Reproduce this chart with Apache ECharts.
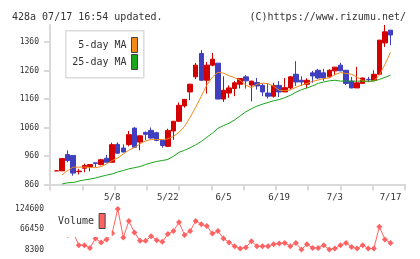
<!DOCTYPE html>
<html>
<head>
<meta charset="utf-8">
<script src="https://cdn.jsdelivr.net/npm/echarts@6/dist/echarts.min.js"></script>
<style>
html, body { margin: 0; padding: 0; background: #fff; }
#chart { width: 420px; height: 259px; }
</style>
</head>
<body>
<div id="chart"></div>
<script>
// trading days (2025)
var dates = ['4/21', '4/22', '4/23', '4/24', '4/25', '4/28', '4/30',
    '5/1', '5/2', '5/7', '5/8', '5/9', '5/12', '5/13', '5/14', '5/15', '5/16', '5/19', '5/20', '5/21',
    '5/22', '5/23', '5/26', '5/27', '5/28', '5/29', '5/30',
    '6/2', '6/3', '6/4', '6/5', '6/6', '6/9', '6/10', '6/11', '6/12', '6/13', '6/16', '6/17', '6/18',
    '6/19', '6/20', '6/23', '6/24', '6/25', '6/26', '6/27', '6/30',
    '7/1', '7/2', '7/3', '7/4', '7/7', '7/8', '7/9', '7/10', '7/11', '7/14', '7/15', '7/16', '7/17'];

var opens = [908, 908, 965, 962, 905, 917, 923, 936, 930, 952,
    938, 1001, 988, 1000, 1058, 1009, 1043, 1050, 1042, 1015,
    994, 1048, 1082, 1136, 1185, 1238, 1320, 1226, 1279, 1286,
    1160, 1181, 1197, 1212, 1238, 1209, 1218, 1208, 1181, 1170,
    1208, 1185, 1199, 1247, 1226, 1212, 1252, 1261, 1252, 1238,
    1259, 1279, 1261, 1223, 1199, 1215, 1229, 1226, 1247, 1357, 1402];
var closes = [908, 951, 944, 900, 907, 927, 930, 934, 947, 938,
    1000, 970, 974, 1035, 991, 1031, 1036, 1023, 1015, 997,
    1050, 1082, 1138, 1159, 1212, 1279, 1226, 1279, 1300, 1160,
    1191, 1199, 1217, 1232, 1224, 1223, 1206, 1185, 1170, 1208,
    1185, 1200, 1238, 1220, 1220, 1226, 1241, 1234, 1234, 1261,
    1272, 1259, 1215, 1199, 1217, 1234, 1228, 1247, 1367, 1396, 1385];
var lows = [908, 908, 938, 891, 895, 903, 906, 921, 927, 937,
    938, 968, 973, 994, 990, 980, 1016, 1020, 1012, 989,
    991, 1017, 1080, 1130, 1156, 1230, 1224, 1179, 1275, 1160,
    1150, 1164, 1170, 1197, 1197, 1152, 1193, 1170, 1162, 1165,
    1167, 1185, 1194, 1206, 1206, 1199, 1217, 1230, 1224, 1236,
    1244, 1258, 1209, 1198, 1199, 1214, 1220, 1226, 1247, 1343, 1349];
var highs = [908, 951, 980, 962, 915, 933, 931, 936, 950, 964,
    1007, 1008, 1001, 1048, 1061, 1032, 1046, 1060, 1045, 1015,
    1056, 1083, 1148, 1160, 1214, 1287, 1332, 1290, 1322, 1286,
    1240, 1208, 1223, 1234, 1244, 1224, 1234, 1215, 1215, 1217,
    1223, 1234, 1241, 1293, 1240, 1233, 1259, 1266, 1266, 1265,
    1273, 1287, 1262, 1238, 1273, 1235, 1238, 1261, 1367, 1420, 1402];

var ma5 = [null, 894, 909, 921, 921, 921, 920, 919, 923, 932,
    944, 953, 967, 981, 990, 1003, 1013, 1018, 1018, 1018,
    1020, 1029, 1043, 1064, 1096, 1131, 1170, 1209, 1237, 1254,
    1251, 1242, 1235, 1226, 1209, 1200, 1212, 1216, 1214, 1205,
    1191, 1189, 1192, 1201, 1209, 1215, 1222, 1227, 1232, 1234,
    1246, 1253, 1250, 1247, 1237, 1224, 1220, 1224, 1244, 1282, 1324];
var ma25 = [null, 862, 866, 867, 872, 876, 879, 883, 888, 893,
    897, 904, 909, 915, 919, 923, 930, 936, 941, 944,
    948, 959, 973, 980, 989, 999, 1011, 1026, 1040, 1057,
    1067, 1075, 1087, 1101, 1115, 1126, 1135, 1142, 1148, 1154,
    1158, 1165, 1173, 1184, 1193, 1199, 1206, 1215, 1220, 1224,
    1226, 1223, 1223, 1223, 1223, 1223, 1223, 1223, 1229, 1236, 1244];

var volumes = [70000, 60000, 50000, 57000, 20700, 20700, 12900, 40000, 28500, 37200,
    55300, 124600, 43000, 90000, 57400, 33100, 33100, 46700, 35100, 30200,
    52500, 61100, 86200, 49600, 61100, 90000, 80500, 75500, 54500, 61100,
    40000, 28500, 17800, 11200, 14100, 32300, 17800, 17800, 17800, 23600,
    25600, 27300, 17800, 27300, 8300, 23600, 12900, 12900, 20700, 8500,
    11200, 20700, 27300, 15800, 11200, 20700, 11200, 11200, 73500, 37200, 27300];

var priceTicks = [860, 960, 1060, 1160, 1260, 1360];
var volumeTicks = [8300, 66450, 124600];
var labelIndexes = [10, 20, 30, 40, 50, 60];

var MONO = 'DejaVu Sans Mono';
var axisGray = '#d9d9d9';

var candles = [], ma5Data = [], ma25Data = [], volData = [];
for (var i = 0; i < dates.length; i++) {
    candles.push([i, opens[i], closes[i], lows[i], highs[i]]);
    ma5Data.push([i, ma5[i]]);
    ma25Data.push([i, ma25[i]]);
    volData.push([i, volumes[i]]);
}

var xMin = -1.17, xMax = 62.6;

function plain(v) {
    return String(v);
}

var myChart = echarts.init(document.getElementById('chart'), null, {renderer: 'canvas'});

var option = {
    animation: false,
    backgroundColor: '#fff',
    title: [
        {text: '428a 07/17 16:54 updated.', left: 7, top: 7,
            textStyle: {fontFamily: MONO, fontSize: 10, fontWeight: 'normal', color: '#333'}},
        {text: '(C)https://www.rizumu.net/', right: 9, top: 7,
            textStyle: {fontFamily: MONO, fontSize: 10, fontWeight: 'normal', color: '#333'}}
    ],
    graphic: [{
        type: 'rect', left: 65, top: 30, z: 3,
        shape: {width: 78, height: 47},
        style: {fill: '#fff', stroke: '#dcdcdc', lineWidth: 1.5}
    }],
    legend: [
        {data: ['5-day MA'], right: 282, top: 37, padding: 0, align: 'right', icon: 'rect',
            itemWidth: 6, itemHeight: 15, itemStyle: {borderColor: '#444', borderWidth: 1},
            textStyle: {fontFamily: MONO, fontSize: 10, color: '#333'}},
        {data: ['25-day MA'], right: 282, top: 54, padding: 0, align: 'right', icon: 'rect',
            itemWidth: 6, itemHeight: 15, itemStyle: {borderColor: '#444', borderWidth: 1},
            textStyle: {fontFamily: MONO, fontSize: 10, color: '#333'}},
        {data: ['Volume'], left: 53, top: 205, padding: [8, 6, 8, 5], align: 'right', icon: 'rect',
            backgroundColor: '#fff',
            itemWidth: 6, itemHeight: 15, itemStyle: {borderColor: '#444', borderWidth: 1},
            textStyle: {fontFamily: MONO, fontSize: 10, color: '#333'}}
    ],
    grid: [
        {left: 50, right: 15, top: 25, height: 159.5},
        {left: 50, right: 15, top: 209, height: 40.5}
    ],
    xAxis: [
        {
            type: 'value', gridIndex: 0, min: xMin, max: xMax, position: 'bottom',
            axisLine: {show: false, onZero: false},
            axisTick: {show: false},
            splitLine: {show: false},
            axisLabel: {
                customValues: labelIndexes, margin: 9,
                fontFamily: MONO, fontSize: 9, color: '#333',
                formatter: function (v) { return dates[v]; }
            }
        },
        {
            type: 'value', gridIndex: 0, min: 0, max: 11, interval: 1, position: 'bottom',
            axisLine: {show: true, onZero: false, lineStyle: {color: axisGray, width: 2}},
            axisTick: {show: true, length: 6, lineStyle: {color: axisGray, width: 2}},
            axisLabel: {show: false},
            splitLine: {show: false}
        },
        {
            type: 'value', gridIndex: 1, min: xMin, max: xMax, show: false
        }
    ],
    yAxis: [
        {
            type: 'value', gridIndex: 0, min: 860, max: 1420,
            axisLine: {show: true, onZero: false, lineStyle: {color: axisGray, width: 2}},
            axisTick: {show: true, length: 6, customValues: priceTicks, lineStyle: {color: axisGray, width: 2}},
            axisLabel: {customValues: priceTicks, margin: 11, fontFamily: MONO, fontSize: 8, color: '#333',
                formatter: plain},
            splitLine: {show: false}
        },
        {
            type: 'value', gridIndex: 1, min: 8300, max: 124600,
            axisLine: {show: false},
            axisTick: {show: false},
            axisLabel: {customValues: volumeTicks, margin: 6, fontFamily: MONO, fontSize: 8, color: '#333',
                formatter: plain},
            splitLine: {show: false}
        }
    ],
    series: [
        {
            name: 'price', type: 'candlestick', xAxisIndex: 0, yAxisIndex: 0,
            barWidth: 5,
            itemStyle: {
                color: '#d40000', color0: '#3f3fc0',
                borderColor: '#d40000', borderColor0: '#3f3fc0', borderWidth: 1
            },
            data: candles
        },
        {
            name: '5-day MA', type: 'line', xAxisIndex: 0, yAxisIndex: 0,
            showSymbol: false, color: '#f08a18',
            lineStyle: {width: 1, color: '#f08a18'},
            data: ma5Data
        },
        {
            name: '25-day MA', type: 'line', xAxisIndex: 0, yAxisIndex: 0,
            showSymbol: false, color: '#1aa51a',
            lineStyle: {width: 1, color: '#1aa51a'},
            data: ma25Data
        },
        {
            name: 'Volume', type: 'line', xAxisIndex: 2, yAxisIndex: 1,
            symbol: 'diamond', symbolSize: 6, showSymbol: true, color: '#ff6262',
            lineStyle: {width: 1, color: '#ff6262'},
            itemStyle: {color: '#ff6262'},
            data: volData
        }
    ]
};

myChart.setOption(option);
</script>
</body>
</html>
